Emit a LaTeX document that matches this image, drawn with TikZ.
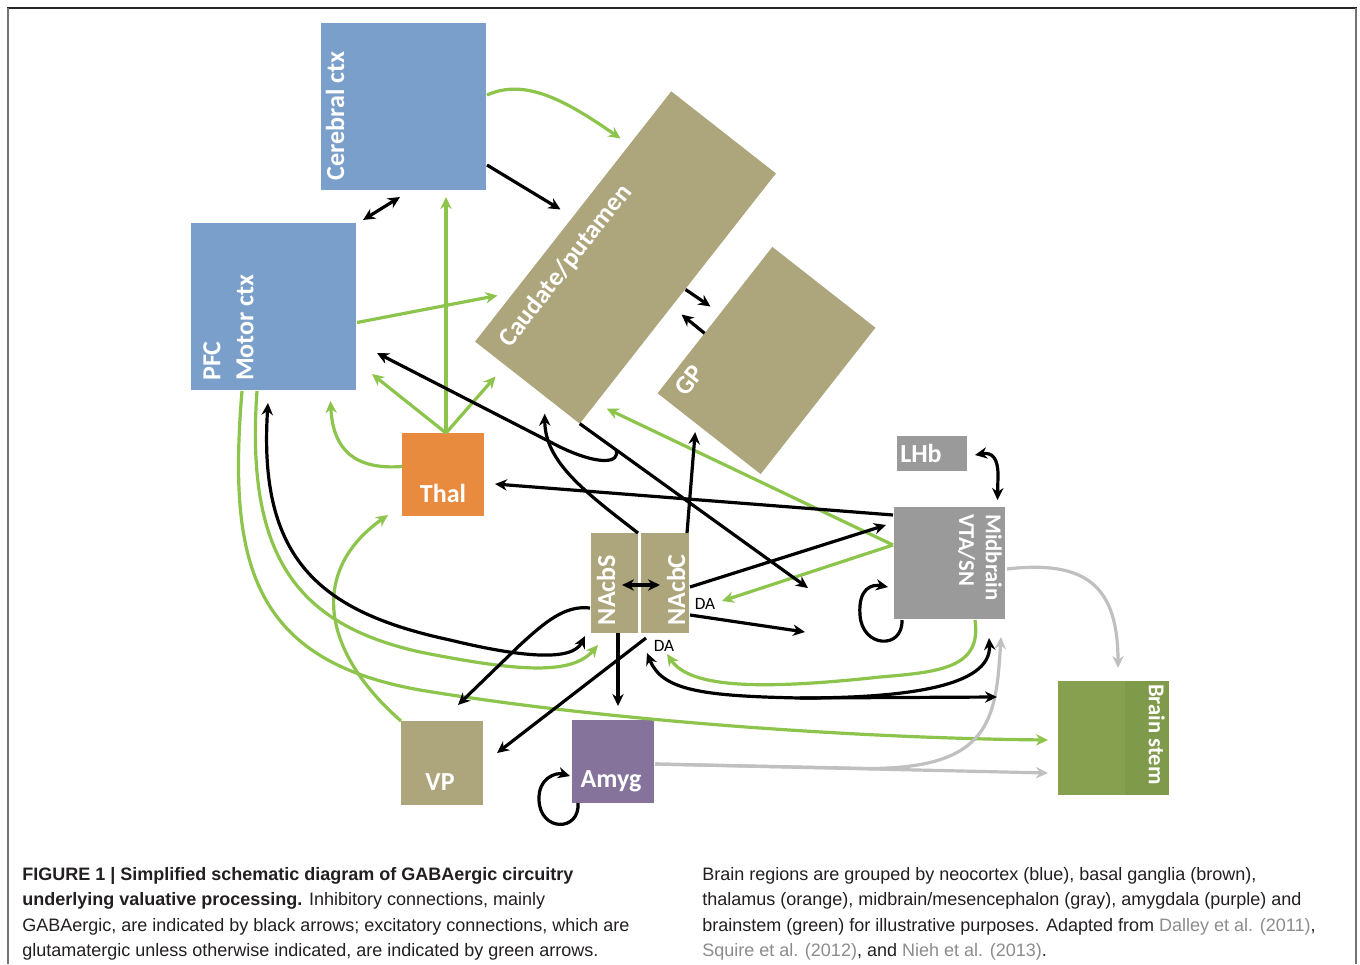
\documentclass[tikz,border=0pt]{standalone}
\usepackage{fontspec}
\setmainfont{Liberation Sans}
\newfontfamily\boxfont{Carlito}
\usetikzlibrary{arrows.meta,calc}
\definecolor{ctxblue}{HTML}{7A9FCB}
\definecolor{bgbrown}{HTML}{ADA57B}
\definecolor{thalorange}{HTML}{E98B3F}
\definecolor{amygpurple}{HTML}{86739C}
\definecolor{midgray}{HTML}{9A9A9A}
\definecolor{bsgreen}{HTML}{87A050}
\definecolor{bsgreendark}{HTML}{7F9A4A}
\definecolor{exgreen}{HTML}{8DC44C}
\definecolor{argray}{HTML}{C0C0C0}
\definecolor{citegray}{HTML}{8C8C8C}
\definecolor{captext}{HTML}{231F20}
\begin{document}
\begin{tikzpicture}[x=0.75pt,y=-0.75pt,
  >={Stealth[length=9pt,width=8.5pt]},
  box/.style={rectangle,inner sep=0pt,outer sep=0pt,anchor=north west},
  rbox/.style={rectangle,inner sep=0pt,outer sep=0pt,anchor=center,rotate=51.9},
  lbl/.style={text=white,inner sep=0pt,font=\boxfont\bfseries\fontsize{19.5}{24.75}\selectfont},
  slbl/.style={text=white,inner sep=0pt,font=\boxfont\bfseries\fontsize{17}{20}\selectfont},
  dalbl/.style={text=black,inner sep=0pt,font=\boxfont\fontsize{13}{15}\selectfont},
  inh/.style={draw=black,line width=2.4pt},
  exc/.style={draw=exgreen,line width=2.4pt},
  gry/.style={draw=argray,line width=2.4pt},
  captxt/.style={anchor=base west,inner sep=0pt,text=captext,font=\fontsize{13.5}{19}\selectfont}
]
\useasboundingbox (0,0) rectangle (1360,964);
\fill[white] (0,0) rectangle (1360,964);
% frame
\draw[line width=1.5pt,draw=black!85] (7,8) -- (1357,8);
\draw[line width=1.5pt,draw=black!55] (8,8) -- (8,964);
\draw[line width=1.5pt,draw=black!55] (1356,8) -- (1356,964);

% boxes
\node[box,fill=ctxblue,minimum width=123.75pt,minimum height=125.25pt] (cerebral) at (321,23) {};
\node[box,fill=ctxblue,minimum width=123.75pt,minimum height=125.25pt] (pfc) at (191,223) {};
\node[box,fill=thalorange,minimum width=61.5pt,minimum height=62.25pt] (thal) at (402,433) {};
\node[box,fill=bgbrown,minimum width=61.5pt,minimum height=63pt] (vp) at (401,721) {};
\node[box,fill=amygpurple,minimum width=61.5pt,minimum height=62.25pt] (amyg) at (572,720) {};
\node[box,fill=bgbrown,minimum width=35.25pt,minimum height=75pt] (nacbs) at (591,533) {};
\node[box,fill=bgbrown,minimum width=36pt,minimum height=75pt] (nacbc) at (641,533) {};
\node[box,fill=midgray,minimum width=52.5pt,minimum height=26.25pt] (lhb) at (897,436) {};
\node[box,fill=midgray,minimum width=83.25pt,minimum height=84pt] (mid) at (894,507) {};
\node[box,fill=bsgreen,minimum width=83.25pt,minimum height=85.5pt] (bs) at (1058,681) {};
\fill[bsgreendark] ($(bs.north west)+(67,0)$) rectangle (bs.south east);
\node[rbox,fill=bgbrown,minimum width=238.5pt,minimum height=99.75pt] (caud) at (625.5,257.5) {};
\node[rbox,fill=bgbrown,minimum width=139.5pt,minimum height=98.25pt] (gp) at (766.5,360.5) {};

% labels
\node[lbl,rotate=90] (cerebralL) at (335,116) {Cerebral ctx};
\node[lbl,rotate=90,anchor=north west,align=left] (pfcL) at (203,381) {PFC\\Motor ctx};
\node[lbl] (thalL) at (443,493) {Thal};
\node[lbl] (vpL) at (440,782) {VP};
\node[lbl] (amygL) at (611,781) {Amyg};
\node[lbl,rotate=90] (nacbsL) at (606,590) {NAcbS};
\node[lbl,rotate=90] (nacbcL) at (676,590) {NAcbC};
\node[lbl,anchor=west] (lhbL) at (900,453) {LHb};
\node[slbl,rotate=-90,anchor=north west,align=left] (midL) at (1002,514) {Midbrain\\VTA/SN};
\node[slbl,rotate=-90,anchor=north west] (bsL) at (1165,684) {Brain stem};
\node[lbl,rotate=51.9] (caudL) at (566,266) {Caudate/putamen};
\node[lbl,rotate=51.9] (gpL) at (689,380) {GP};
\node[dalbl] (da1) at (705,604) {DA};
\node[dalbl] (da2) at (664,646) {DA};

% free ends
\coordinate (e1) at (808,588);
\coordinate (e2) at (722,601);
\coordinate (e3) at (805,632);
\coordinate (e4) at (997,697);
\coordinate (split) at (800,698);
\coordinate (thaltop) at ($(thal.north)+(3,0)$);
\coordinate (mg) at ($(mid.west)+(-1,-18)$);

% ---- excitatory (green)
\draw[exc,->] ($(cerebral.north east)+(1,72)$) .. controls (525,78) and (565,100) .. ($(caud.center)+(-5,-119)$);
\draw[exc,->] ($(pfc.east)+(1,16)$) -- ($(caud.center)+(-128,38)$);
\draw[exc,->] (thaltop) -- ($(cerebral.south)+(42.5,7)$);
\draw[exc,->] (thaltop) -- ($(pfc.south east)+(16,-16)$);
\draw[exc,->] (thaltop) -- ($(caud.center)+(-130,119)$);
\draw[exc,->] ($(thal.west)+(0,-8)$) .. controls (355,470) and (333,450) .. ($(pfc.south)+(57,11)$);
\draw[exc,->] (mg) -- ($(caud.south west)+(27,-15)$);
\draw[exc,->] (mg) -- (e2);
\draw[exc,->] ($(mid.south)+(25.5,1)$) .. controls (982,668) and (940,672) .. (880,677) .. controls (760,690) and (690,688) .. ($(nacbc.south west)+(26,21)$);
\draw[exc,->] ($(pfc.south)+(-31.5,1)$) .. controls (228,560) and (250,660) .. (420,690) .. controls (600,720) and (850,738) .. ($(bs.west)+(-10,2)$);
\draw[exc,->] ($(pfc.south)+(-16.5,1)$) .. controls (245,560) and (300,625) .. (420,652) .. controls (520,672) and (572,675) .. ($(nacbs.south west)+(7,12)$);
\draw[exc,->] (vp.north west) .. controls (320,650) and (310,570) .. ($(thal.south west)+(-14,-1)$);

% ---- gray
\draw[gry,->] ($(mid.east)+(2,6)$) .. controls (1085,560) and (1118,585) .. ($(bs.north)+(4.5,-13)$);
\draw[gry,->] ($(amyg.east)+(1,2.5)$) -- ($(bs.west)+(-10,35)$);
\draw[gry,->] ($(amyg.east)+(1,2.5)$) -- (870,768.5) .. controls (990,768) and (996,720) .. ($(mid.south)+(51.5,18)$);

% ---- inhibitory (black)
\draw[inh,<->] ($(pfc.north east)+(7,-3)$) -- ($(cerebral.south west)+(79,7)$);
\draw[inh,->] ($(cerebral.south east)+(1,-25)$) -- ($(caud.center)+(-65,-48)$);
\draw[inh,->] (caud.south west) -- (e1);
\draw[inh,->] ($(caud.south west)!0.16!(e1)$) .. controls (620,463) and (600,466) .. (560,447) -- ($(pfc.south east)+(21,-37)$);
\draw[inh,->] ($(mid.north west)+(-1,8)$) -- ($(thal.east)+(11,9.5)$);
\draw[inh,->] (nacbs.north east) .. controls (585,492) and (545,462) .. ($(caud.south west)+(-35,-10)$);
\draw[inh,->] ($(nacbc.north east)+(-2,0)$) -- ($(gp.south west)+(-65.5,-42)$);
\draw[inh,->] ($(nacbc.east)+(1,4)$) -- ($(mid.north west)+(-8,18)$);
\draw[inh,->] ($(nacbc.east)+(1,32)$) -- (e3);
\draw[inh,<->] ($(nacbs.east)+(-16,2)$) -- ($(nacbc.west)+(19,2)$);
\draw[inh,->] ($(caud.center)+(60,32)$) -- ($(caud.center)+(85,49)$);
\draw[inh,->] ($(gp.north west)+(47,-60)$) -- ($(caud.center)+(56,57)$);
\draw[inh,<->] ($(lhb.east)+(8,1.5)$) .. controls (992,452) and (998,458) .. (998,475) -- ($(mid.north)+(48,-7)$);
\draw[inh,->] ($(mid.south west)+(8,1)$) .. controls (903,650) and (862,648) .. (860,615) .. controls (858,588) and (872,584) .. ($(mid.west)+(-6,24)$);
\draw[inh,<->] ($(nacbc.south west)+(6,20)$) .. controls (662,690) and (700,696) .. (split) -- (e4);
\draw[inh,->] (split) .. controls (900,698) and (992,688) .. ($(mid.south)+(39.5,19)$);
\draw[inh,<->] ($(pfc.south)+(-5.5,13)$) .. controls (258,560) and (320,612) .. (450,640) .. controls (520,657) and (572,662) .. ($(nacbs.south west)+(-6,3)$);
\draw[inh,->] ($(nacbs.west)+(-1,25)$) .. controls (565,605) and (545,622) .. (520,645) -- ($(vp.north)+(16,-16)$);
\draw[inh,->] ($(nacbc.south west)+(5,5)$) -- ($(vp.east)+(14,-10)$);
\draw[inh,->] ($(nacbs.south)+(3.5,0)$) -- ($(amyg.north)+(5,-14)$);
\draw[inh,->] ($(amyg.south west)+(6,0)$) .. controls (580,832) and (540,832) .. (539,800) .. controls (538,778) and (556,772) .. ($(amyg.west)+(-2,14.5)$);

% ---- caption
\node[captxt] (capL1) at (22,880) {\textbf{FIGURE 1 | Simplified schematic diagram of GABAergic circuitry}};
\node[captxt] (capL2) at (22,905) {\textbf{underlying valuative processing.} Inhibitory connections, mainly};
\node[captxt] (capL3) at (22,931) {GABAergic, are indicated by black arrows; excitatory connections, which are};
\node[captxt] (capL4) at (22,956) {glutamatergic unless otherwise indicated, are indicated by green arrows.};
\node[captxt] (capR1) at (702,880) {Brain regions are grouped by neocortex (blue), basal ganglia (brown),};
\node[captxt] (capR2) at (702,905) {thalamus (orange), midbrain/mesencephalon (gray), amygdala (purple) and};
\node[captxt] (capR3) at (702,931) {brainstem (green) for illustrative purposes. Adapted from \textcolor{citegray}{Dalley et al. (2011)},};
\node[captxt] (capR4) at (702,956) {\textcolor{citegray}{Squire et al. (2012)}, and \textcolor{citegray}{Nieh et al. (2013)}.};
\end{tikzpicture}
\end{document}
